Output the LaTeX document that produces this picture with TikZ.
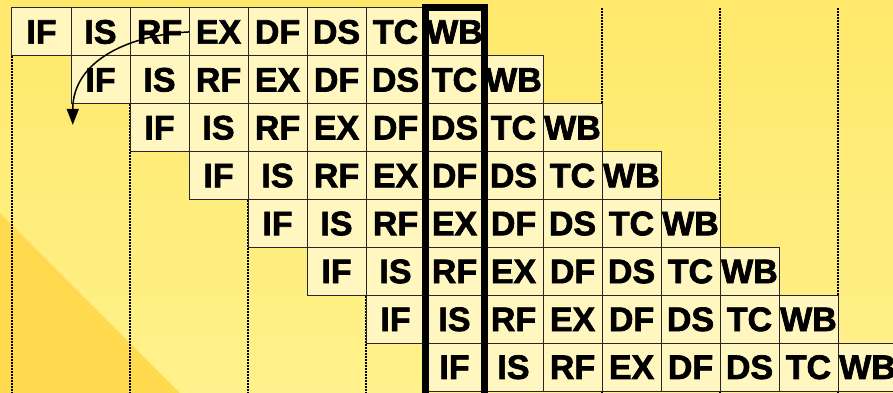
\documentclass[tikz,border=0pt]{standalone}
\usepackage{fontspec}
\setmainfont{Liberation Sans}
\newfontfamily\stagefont[FakeBold=2]{Liberation Sans}
\usetikzlibrary{arrows.meta}

\definecolor{cell yellow}{HTML}{FFF6C0}
\definecolor{back top}{HTML}{FFE86A}
\definecolor{back bottom}{HTML}{FFF28C}
\definecolor{back corner}{HTML}{FFD94E}

\tikzstyle{stage}=[draw=black!85, line width=1pt, fill=cell yellow, minimum width=59pt, minimum height=47.9pt, inner sep=0pt, outer sep=0pt, font=\stagefont\bfseries\fontsize{34}{34}\selectfont]
\tikzstyle{grid line}=[black, line width=1.5pt, dash pattern=on 2pt off 1pt]
\tikzstyle{slot}=[black, line width=7pt]
\tikzstyle{hazard}=[black, line width=1.5pt, -{Triangle[length=16pt,width=12pt]}]

\begin{document}
\begin{tikzpicture}[x=59pt, y=-47.9pt]
					% Background
					\useasboundingbox (-12pt,8pt) rectangle (881pt,-385pt);
					\fill[top color=back top, bottom color=back bottom] (-12pt,8pt) rectangle (881pt,-385pt);
					\fill[back corner] (-12pt,-205pt) -- (168pt,-385pt) -- (-12pt,-385pt) -- cycle;

					% Cycle boundaries
					\foreach \x in {0,2,...,14}{ \draw[grid line] (\x,0) -- (\x,8.2); }

					% Pipeline stages, one row per instruction
					\foreach \r in {0,...,7}{
						\foreach [count=\k from 0] \s in {IF,IS,RF,EX,DF,DS,TC,WB}{
							\node[stage] (i\r-\s) at (\r+\k+0.5, \r+0.5) {\s};
						}
					}

					% Cycle column
					\draw[slot] ([yshift=-4pt]i7-IF.south west) -- (i0-WB.north west) -- (i0-WB.north east) -- ([yshift=-4pt]i7-IF.south east);

					% Load delay
					\coordinate (back) at (1.03,2.44);
					\draw[hazard] (i0-RF.east) .. controls (2,0.56) and (1.03,1.09) .. (back);
				\end{tikzpicture}
\end{document}
